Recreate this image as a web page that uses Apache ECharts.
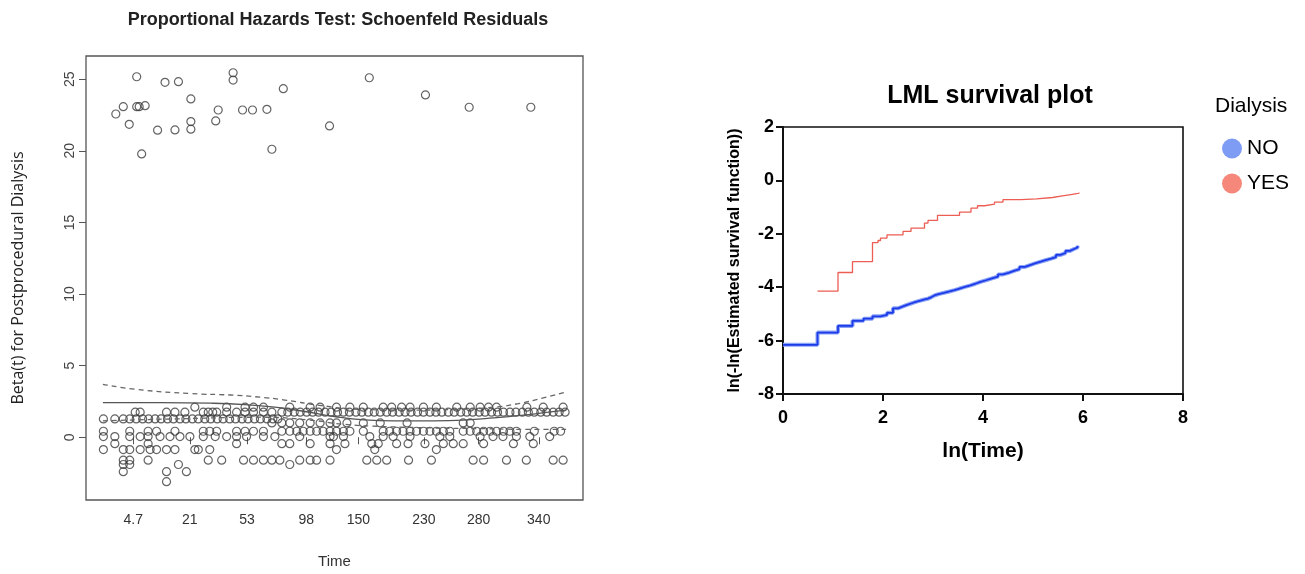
<!DOCTYPE html>
<html>
<head>
<meta charset="utf-8">
<script src="https://cdn.jsdelivr.net/npm/echarts@6.0.0/dist/echarts.min.js"></script>
<style>
  html, body { margin: 0; padding: 0; background: #fff; }
  #chart { width: 1305px; height: 574px; }
</style>
</head>
<body>
<div id="chart"></div>
<script>
// ---- left panel: Schoenfeld residuals (x = transformed time, 0..100 across the box) ----
var timeTickX = [9.5, 20.9, 32.4, 44.3, 54.8, 68.0, 79.0, 91.1];
var timeTickLabel = ['4.7', '21', '53', '98', '150', '230', '280', '340'];
var betaTicks = [0, 5, 10, 15, 20, 25];

// residuals far above the band
var residHigh = [
  [10.2, 25.17], [15.9, 24.78], [18.6, 24.83], [29.6, 25.45], [29.6, 24.94], [39.7, 24.34],
  [6.0, 22.57], [7.5, 23.08], [10.2, 23.08], [10.7, 23.08], [11.9, 23.15], [8.7, 21.85],
  [11.2, 19.78], [14.4, 21.44], [17.9, 21.46], [21.1, 23.62], [21.1, 22.04], [21.1, 21.51],
  [26.6, 22.85], [26.1, 22.09], [31.5, 22.85], [33.5, 22.85], [36.4, 22.9], [37.4, 20.11],
  [49.0, 21.74], [57.0, 25.1], [68.3, 23.9], [77.1, 23.04], [89.5, 23.04]
];

// the low band: residuals sit on a few levels, one list of x per level
var rowBeta = [2.1, 1.75, 1.28, 1.0, 0.42, 0.05, -0.45, -0.86, -1.6, -1.9, -2.4, -3.1];
var rowX = [
  [21.9, 28.3, 32.0, 33.7, 35.7, 41.0, 45.1, 47.1, 50.4, 53.1, 55.8, 59.8, 61.5, 63.5, 65.2, 67.9,
   70.5, 74.6, 77.3, 79.3, 81.0, 82.6, 88.7, 92.0, 96.0],
  [9.9, 10.9, 16.2, 17.9, 19.9, 23.6, 24.6, 25.5, 26.3, 28.3, 30.3, 32.0, 33.7, 35.7, 37.4,
   39.4, 40.6, 41.9, 43.1, 44.4, 45.6, 46.8, 48.1, 49.3, 50.6, 51.8, 53.0, 54.3, 55.5, 56.8,
   58.0, 59.2, 60.5, 61.7, 63.0, 64.2, 65.4, 66.7, 67.9, 69.2, 70.4, 71.6, 72.9, 74.1, 75.4,
   76.6, 77.8, 79.1, 80.3, 81.6, 82.8, 84.0, 85.3, 86.5, 87.8, 89.0, 90.2, 91.5, 92.7, 94.0,
   95.2, 96.4],
  [3.5, 5.8, 7.5, 8.8, 10.1, 11.4, 12.6, 13.9, 15.1, 16.4, 17.6, 18.9, 20.1, 21.4, 22.6,
   23.9, 25.1, 26.4, 27.6, 28.9, 30.1, 31.4, 32.6, 33.9, 35.1, 36.4, 37.6, 38.6],
  [37.4, 39.4, 41.0, 43.0, 45.1, 47.1, 49.1, 50.4, 52.5, 55.8, 59.2, 64.6, 75.9, 77.3],
  [3.5, 8.8, 12.5, 14.2, 17.9, 23.6, 24.9, 26.3, 30.3, 32.0, 33.7, 35.7, 39.4, 41.0, 42.4,
   43.7, 45.1, 46.4, 47.7, 49.1, 50.4, 51.8, 53.1, 55.8, 59.8, 61.1, 62.5, 63.8, 65.2, 66.5,
   67.9, 69.2, 70.5, 71.9, 73.2, 75.9, 77.3, 78.6, 80.0, 81.3, 82.6, 84.0, 85.3, 86.6, 90.2,
   94.2, 95.5],
  [3.5, 5.8, 8.8, 10.9, 12.5, 14.9, 16.9, 18.9, 20.9, 23.6, 26.0, 28.3, 30.3, 32.3, 35.7,
   38.0, 43.0, 49.1, 49.8, 51.8, 57.1, 59.8, 61.8, 65.2, 71.2, 73.2, 79.3, 81.9, 83.9, 86.6,
   89.3, 93.3],
  [5.8, 12.5, 30.3, 39.4, 41.0, 45.1, 49.1, 52.1, 57.5, 58.8, 62.5, 64.8, 68.2, 71.9, 73.9,
   75.9, 80.0, 86.0, 90.0],
  [3.5, 7.5, 8.8, 10.9, 12.9, 14.2, 16.2, 17.9, 21.9, 22.6, 24.9, 50.4, 58.1, 70.5],
  [7.5, 8.8, 12.5, 24.6, 27.3, 31.7, 33.7, 35.7, 37.4, 39.0, 43.0, 45.1, 46.4, 49.1, 56.5,
   58.5, 60.5, 64.9, 69.5, 77.9, 80.0, 84.6, 88.6, 94.0, 96.0],
  [7.5, 8.8, 18.6, 41.0],
  [7.5, 16.2, 20.2],
  [16.2]
];

// smoothed beta(t) and its +/- 2 se band
var fitLine = [[3.4, 2.42], [15, 2.42], [25, 2.38], [32, 2.28], [38, 2.1], [44, 1.8], [50, 1.45],
  [56, 1.22], [62, 1.15], [70, 1.15], [76, 1.2], [82, 1.35], [88, 1.55], [93, 1.75], [96.6, 1.9]];
var fitUpper = [[3.4, 3.7], [10, 3.35], [21, 3.05], [29, 2.95], [35, 2.8], [40, 2.6], [47, 2.23],
  [55, 1.95], [65, 1.9], [75, 1.95], [82, 2.1], [87, 2.35], [92, 2.75], [96.6, 3.16]];
var fitLower = [[3.4, 1.15], [20, 1.3], [35, 1.4], [45, 1.2], [52, 0.9], [60, 0.75], [70, 0.65],
  [80, 0.6], [90, 0.55], [96.6, 0.55]];

// ---- right panel: ln(-ln S(t)) against ln(t) ----
var survNo = [[0, -6.16], [0.69, -5.70], [1.10, -5.45], [1.39, -5.26], [1.61, -5.18], [1.79, -5.09],
  [1.95, -5.04], [2.08, -4.96], [2.20, -4.79], [2.30, -4.72], [2.40, -4.66], [2.48, -4.61],
  [2.56, -4.56], [2.64, -4.52], [2.71, -4.49], [2.77, -4.46], [2.83, -4.43], [2.90, -4.37],
  [2.97, -4.30], [3.04, -4.25], [3.13, -4.21], [3.22, -4.16], [3.33, -4.11], [3.43, -4.05],
  [3.53, -3.99], [3.64, -3.93], [3.75, -3.87], [3.85, -3.80], [3.95, -3.74], [4.06, -3.67],
  [4.18, -3.60], [4.30, -3.52], [4.40, -3.46], [4.51, -3.39], [4.62, -3.32], [4.73, -3.24],
  [4.84, -3.17], [4.94, -3.11], [5.04, -3.05], [5.14, -2.99], [5.25, -2.93], [5.36, -2.87],
  [5.46, -2.79], [5.55, -2.72], [5.65, -2.64], [5.74, -2.57], [5.82, -2.51], [5.89, -2.45]];
var survYes = [[0.69, -4.15], [1.10, -3.45], [1.39, -3.04], [1.79, -2.33], [1.90, -2.25],
  [1.95, -2.16], [2.08, -2.04], [2.40, -1.91], [2.56, -1.79], [2.83, -1.60], [2.90, -1.50],
  [3.09, -1.31], [3.53, -1.19], [3.76, -1.04], [3.89, -0.95], [4.03, -0.89], [4.23, -0.81],
  [4.40, -0.72], [4.76, -0.69], [5.07, -0.64], [5.39, -0.58], [5.59, -0.52], [5.79, -0.48],
  [5.92, -0.45]];

var lowBand = [];
rowBeta.forEach(function (b, i) {
  rowX[i].forEach(function (x) { lowBand.push([x, b]); });
});

var chart = echarts.init(document.getElementById('chart'));

var rFont = 'Liberation Sans';
var gFont = 'Liberation Sans';

chart.setOption({
  animation: false,
  title: [{
    text: 'Proportional Hazards Test: Schoenfeld Residuals',
    left: 333, top: 6, textAlign: 'center',
    textStyle: { fontFamily: rFont, fontSize: 18, fontWeight: 'bold', color: '#222' }
  }, {
    text: 'LML survival plot',
    left: 985, top: 79, textAlign: 'center',
    textStyle: { fontFamily: gFont, fontSize: 25, fontWeight: 'bold', color: '#000' }
  }, {
    text: 'Dialysis',
    left: 1210, top: 91,
    textStyle: { fontFamily: gFont, fontSize: 21, fontWeight: 'normal', color: '#000' }
  }],
  legend: {
    orient: 'vertical',
    left: 1217, top: 133,
    icon: 'circle',
    itemWidth: 20, itemHeight: 20, itemGap: 14,
    textStyle: { fontFamily: gFont, fontSize: 21, color: '#000' },
    data: [
      { name: 'NO', itemStyle: { color: '#7f9cf5' } },
      { name: 'YES', itemStyle: { color: '#f5877b' } }
    ]
  },
  grid: [{
    left: 86, top: 56, width: 497, height: 444, outerBoundsMode: 'none',
    show: true, borderColor: '#555', borderWidth: 1.3, backgroundColor: '#fff'
  }, {
    left: 783, top: 127, width: 400, height: 267, outerBoundsMode: 'none',
    show: true, borderColor: '#111', borderWidth: 1.6
  }],
  xAxis: [{
    gridIndex: 0, type: 'value', min: 0, max: 100,
    name: 'Time', nameLocation: 'middle', nameGap: 54,
    nameTextStyle: { fontFamily: rFont, fontSize: 15, color: '#333' },
    axisLine: { show: false },
    splitLine: { show: false },
    axisTick: { show: true, length: 7, lineStyle: { color: '#555' }, customValues: timeTickX },
    axisLabel: {
      margin: 13, fontFamily: rFont, fontSize: 14, color: '#333',
      customValues: timeTickX,
      formatter: function (v) {
        var i = timeTickX.indexOf(v);
        return i >= 0 ? timeTickLabel[i] : '';
      }
    }
  }, {
    gridIndex: 1, type: 'value', min: 0, max: 8, interval: 2,
    name: 'ln(Time)', nameLocation: 'middle', nameGap: 47,
    nameTextStyle: { fontFamily: gFont, fontSize: 21, fontWeight: 'bold', color: '#000' },
    axisLine: { onZero: false, lineStyle: { color: '#111', width: 2 } },
    axisTick: { length: 7, lineStyle: { color: '#111', width: 2 } },
    splitLine: { show: false },
    axisLabel: { margin: 15, fontFamily: gFont, fontSize: 18, fontWeight: 'bold', color: '#000' }
  }],
  yAxis: [{
    gridIndex: 0, type: 'value', min: -4.38, max: 26.62,
    name: 'Beta(t) for Postprocedural Dialysis', nameLocation: 'middle', nameGap: 60,
    nameTextStyle: { fontFamily: 'Open Sans', fontSize: 16, color: '#222' },
    axisLine: { show: false },
    splitLine: { show: false },
    axisTick: { show: true, length: 7, lineStyle: { color: '#555' }, customValues: betaTicks },
    axisLabel: {
      rotate: 90, margin: 9, fontFamily: rFont, fontSize: 14, color: '#444',
      customValues: betaTicks
    }
  }, {
    gridIndex: 1, type: 'value', min: -8, max: 2, interval: 2,
    name: 'ln(-ln(Estimated survival function))', nameLocation: 'middle', nameGap: 40,
    nameTextStyle: { fontFamily: gFont, fontSize: 16, fontWeight: 'bold', color: '#000' },
    axisLine: { onZero: false, lineStyle: { color: '#111', width: 2 } },
    axisTick: { length: 7, lineStyle: { color: '#111', width: 2 } },
    splitLine: { show: false },
    axisLabel: { margin: 9, fontFamily: gFont, fontSize: 18, fontWeight: 'bold', color: '#000' }
  }],
  series: [{
    name: 'resid high', type: 'scatter', xAxisIndex: 0, yAxisIndex: 0,
    data: residHigh, symbol: 'circle', symbolSize: 8,
    itemStyle: { color: 'rgba(0,0,0,0)', borderColor: '#3c3c3c', borderWidth: 1.2 }
  }, {
    name: 'resid band', type: 'scatter', xAxisIndex: 0, yAxisIndex: 0,
    data: lowBand, symbol: 'circle', symbolSize: 8,
    itemStyle: { color: 'rgba(0,0,0,0)', borderColor: '#3c3c3c', borderWidth: 1.2 }
  }, {
    name: 'fit', type: 'line', xAxisIndex: 0, yAxisIndex: 0, smooth: true,
    data: fitLine, showSymbol: false, lineStyle: { color: '#555', width: 1.3 }
  }, {
    name: 'upper', type: 'line', xAxisIndex: 0, yAxisIndex: 0, smooth: true,
    data: fitUpper, showSymbol: false, lineStyle: { color: '#666', width: 1.3, type: [5, 4] }
  }, {
    name: 'lower', type: 'line', xAxisIndex: 0, yAxisIndex: 0, smooth: true,
    data: fitLower, showSymbol: false, lineStyle: { color: '#666', width: 1.3, type: [5, 4] }
  }, {
    name: 'NO', type: 'line', xAxisIndex: 1, yAxisIndex: 1, step: 'end',
    data: survNo, showSymbol: false,
    itemStyle: { color: '#7f9cf5' },
    lineStyle: { color: '#8aa2f5', width: 4 }
  }, {
    name: 'NO', type: 'line', xAxisIndex: 1, yAxisIndex: 1, step: 'end',
    data: survNo, showSymbol: false,
    itemStyle: { color: '#7f9cf5' },
    lineStyle: { color: '#1d3be8', width: 1.8 }
  }, {
    name: 'YES', type: 'line', xAxisIndex: 1, yAxisIndex: 1, step: 'end',
    data: survYes, showSymbol: false,
    itemStyle: { color: '#f5877b' },
    lineStyle: { color: '#ec5d53', width: 1.3 }
  }]
});
</script>
</body>
</html>
